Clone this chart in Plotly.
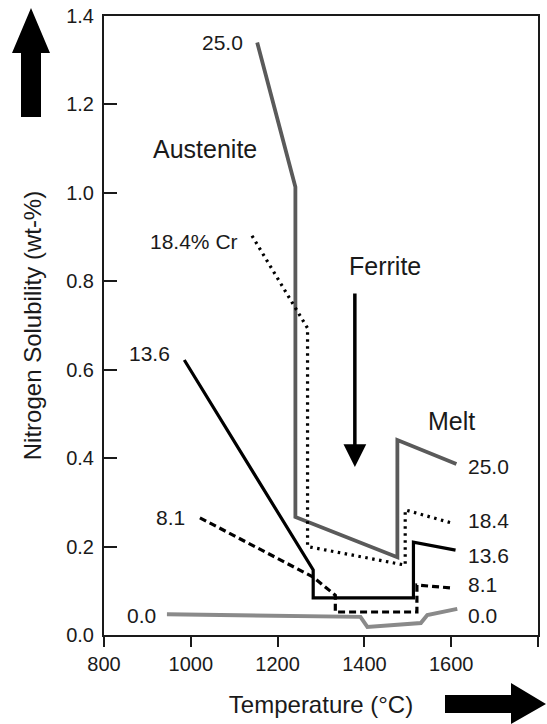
import plotly.graph_objects as go

# ---- data ----
cr250_T = [1153, 1241, 1241, 1476, 1476, 1612]
cr250_N = [1.340, 1.013, 0.267, 0.176, 0.441, 0.387]

cr184_T = [1141, 1245, 1269, 1269, 1494, 1494, 1602]
cr184_N = [0.903, 0.735, 0.694, 0.200, 0.158, 0.283, 0.253]

cr136_T = [985, 1282, 1282, 1513, 1513, 1610]
cr136_N = [0.622, 0.147, 0.084, 0.084, 0.210, 0.192]

cr81_T = [1021, 1282, 1333, 1333, 1521, 1521, 1604]
cr81_N = [0.265, 0.131, 0.090, 0.052, 0.052, 0.113, 0.106]

cr00_T = [945, 1391, 1407, 1530, 1545, 1614]
cr00_N = [0.047, 0.041, 0.018, 0.027, 0.045, 0.059]

x_ticks = [800, 1000, 1200, 1400, 1600, 1800]
y_ticks = [0.0, 0.2, 0.4, 0.6, 0.8, 1.0, 1.2, 1.4]

FONT = "Liberation Sans, Arial, Helvetica, sans-serif"
INK = "#1a1a1a"

fig = go.Figure()
fig.add_trace(go.Scatter(x=cr250_T, y=cr250_N, mode="lines",
                         line=dict(color="#5a5a5a", width=3.8)))
fig.add_trace(go.Scatter(x=cr184_T, y=cr184_N, mode="lines",
                         line=dict(color="black", width=3.2, dash="2.5px,4.5px")))
fig.add_trace(go.Scatter(x=cr136_T, y=cr136_N, mode="lines",
                         line=dict(color="black", width=3.2)))
fig.add_trace(go.Scatter(x=cr81_T, y=cr81_N, mode="lines",
                         line=dict(color="black", width=3.2, dash="7px,4px")))
fig.add_trace(go.Scatter(x=cr00_T, y=cr00_N, mode="lines",
                         line=dict(color="#8a8a8a", width=4)))

# ---- text labels ----
def lab(text, x, y, size=21, xanchor="center"):
    fig.add_annotation(x=x, y=y, text=text, showarrow=False, xanchor=xanchor,
                       yanchor="middle", font=dict(size=size, color=INK, family=FONT))

lab("25.0", 1125, 1.339, xanchor="right")
lab("Austenite", 1033, 1.10, size=25)
lab("18.4% Cr", 1113, 0.891, xanchor="right")
lab("Ferrite", 1447, 0.835, size=25)
lab("13.6", 957, 0.636, xanchor="right")
lab("Melt", 1600, 0.484, size=25)
lab("8.1", 991, 0.265, xanchor="right")
lab("0.0", 924, 0.045, xanchor="right")
lab("25.0", 1634, 0.380, xanchor="left")
lab("18.4", 1634, 0.258, xanchor="left")
lab("13.6", 1634, 0.179, xanchor="left")
lab("8.1", 1634, 0.115, xanchor="left")
lab("0.0", 1634, 0.043, xanchor="left")

# Ferrite arrow
fig.add_annotation(x=1378, y=0.38, ax=1378, ay=0.776, axref="x", ayref="y",
                   showarrow=True, arrowhead=2, arrowwidth=3.5, arrowsize=1.3,
                   arrowcolor="black", text="")

# ---- big decorative arrows (pixel positions converted to paper coords) ----
L, R, T, B = 104, 538, 16, 635
def P(px, py):
    return (px - L) / (R - L), (B - py) / (B - T)

def path(pts):
    s = ""
    for i, (px, py) in enumerate(pts):
        xx, yy = P(px, py)
        s += ("M" if i == 0 else "L") + f"{xx:.5f},{yy:.5f} "
    return s + "Z"

up = [(31, 8), (50, 53), (41, 53), (41, 117), (21, 117), (21, 53), (12, 53)]
right = [(445, 695), (511, 695), (511, 683), (546, 704), (511, 724), (511, 713), (445, 713)]
for pts in (up, right):
    fig.add_shape(type="path", xref="paper", yref="paper", path=path(pts),
                  fillcolor="black", line=dict(color="black", width=0))

fig.update_layout(
    width=547, height=724,
    margin=dict(l=L, r=547 - R, t=T, b=724 - B),
    plot_bgcolor="white", paper_bgcolor="white",
    showlegend=False,
    font=dict(family=FONT, color=INK),
)
fig.update_xaxes(range=[800, 1800], tickvals=x_ticks, ticks="outside", ticklen=10,
                 tickwidth=2, tickcolor=INK, showline=True, linewidth=2,
                 linecolor=INK, mirror=True, showgrid=False, zeroline=False,
                 tickfont=dict(size=20, family=FONT, color=INK),
                 title=dict(text="Temperature (°C)", font=dict(size=24, family=FONT, color=INK),
                            standoff=22),
                 automargin=False)
fig.update_yaxes(range=[0, 1.4], tickvals=y_ticks, tickformat=".1f", ticks="inside",
                 ticklen=13, tickwidth=2, tickcolor=INK, showline=True, linewidth=2,
                 linecolor=INK, mirror=True, showgrid=False, zeroline=False,
                 tickfont=dict(size=20, family=FONT, color=INK), ticklabelstandoff=4,
                 title=dict(text="Nitrogen Solubility (wt-%)",
                            font=dict(size=24, family=FONT, color=INK), standoff=18),
                 automargin=False)

fig.write_html("out.html")
